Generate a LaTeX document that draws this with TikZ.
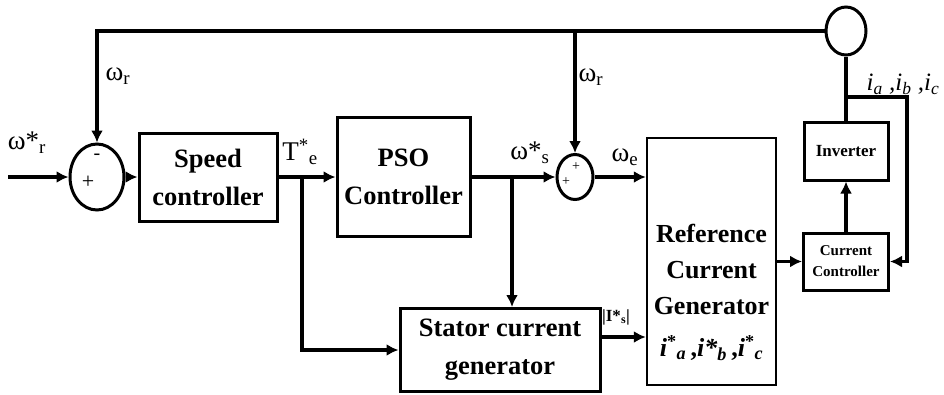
\documentclass[tikz,border=0pt]{standalone}
\usepackage{fontspec}
\setmainfont{Liberation Serif}
\usetikzlibrary{arrows.meta,positioning,calc,shapes.geometric}

\begin{document}
\begin{tikzpicture}[x=1pt,y=-1pt,
    block/.style={draw,line width=3pt,align=center,inner sep=0pt,font=\bfseries\fontsize{26.5}{38}\selectfont},
    sumnode/.style={ellipse,draw,line width=3pt,inner sep=0pt},
    wire/.style={line width=3.6pt},
    arrow/.style={-{Latex[length=12pt,width=12pt]}},
    lbl/.style={inner sep=0pt,font=\fontsize{27}{30}\selectfont}]
    \useasboundingbox (0,0) rectangle (944,394);
    \node[sumnode,minimum width=54pt,minimum height=66pt] (sum1) at (97,177) {};
    \node[block,minimum width=138pt,minimum height=88pt] (spd) at (208,177) {Speed\\controller};
    \node[block,minimum width=133pt,minimum height=119pt] (pso) at (403.5,177) {PSO\\Controller};
    \node[sumnode,minimum width=36pt,minimum height=45pt] (sum2) at (575,177) {};
    \node[block,minimum width=200pt,minimum height=83pt] (stator) at (500,350) {Stator current\\generator};
    \node[block,line width=2.4pt,minimum width=129pt,minimum height=247pt] (ref) at (711.5,261.5) {};
    \node[align=center,font=\bfseries\fontsize{26}{36}\selectfont] (reftext) at (711.5,292) {Reference\\Current\\Generator\\[6pt]
        \textit{i}\textsuperscript{*}\textsubscript{\textit{a}}\,,\textit{i*}\textsubscript{\textit{b}}\,,\textit{i}\textsuperscript{*}\textsubscript{\textit{c}}};
    \node[block,font=\bfseries\fontsize{17}{20}\selectfont,minimum width=84pt,minimum height=58pt] (inv) at (846,151) {Inverter};
    \node[block,font=\bfseries\fontsize{15}{21}\selectfont,minimum width=85pt,minimum height=57pt] (cc) at (846,261.5) {Current\\Controller};
    \node[sumnode,minimum width=40pt,minimum height=48pt] (motor) at (846,31) {};

    \coordinate (in) at (8,177);
    \coordinate (tapt) at (302,177);
    \coordinate (taps) at (512,177);
    \coordinate (tapi) at (846,97);
    \draw[wire,arrow] (in) -- (sum1);
    \draw[wire,arrow] (sum1) -- (spd);
    \draw[wire,arrow] (spd) -- (pso);
    \draw[wire,arrow] (pso) -- (sum2);
    \draw[wire,arrow] (sum2.east) -- (sum2.east -| ref.west);
    \draw[wire,arrow] (motor.west) -| (sum1.north);
    \draw[wire,arrow] (motor.west -| sum2.north) -- (sum2.north);
    \draw[wire,arrow] (tapt) |- (stator.west);
    \draw[wire,arrow] (taps) -- (taps |- stator.north);
    \draw[wire,arrow] (stator.east |- 0,337) -- (ref.west |- 0,337);
    \draw[wire,arrow] (ref.east) -- (cc.west);
    \draw[wire,arrow] (cc.north) -- (inv.south);
    \draw[wire] (inv.north) -- (motor.south);
    \draw[wire,arrow] (tapi) -- ++(61,0) |- (cc.east);

    \node[lbl] (wrefr) at (27,143) {ω*\textsubscript{r}};
    \node[lbl] (wr1) at (118,76) {ω\textsubscript{r}};
    \node[lbl] (te) at (300,152) {T\textsuperscript{*}\textsubscript{e}};
    \node[lbl] (wrefs) at (530,153) {ω*\textsubscript{s}};
    \node[lbl] (wr2) at (591,77) {ω\textsubscript{r}};
    \node[lbl] (we) at (625,157) {ω\textsubscript{e}};
    \node[lbl,font=\itshape\fontsize{25}{28}\selectfont] (iabc) at (903,84) {i\textsubscript{a} ,i\textsubscript{b} ,i\textsubscript{c}};
    \node[lbl,font=\bfseries\fontsize{17}{18}\selectfont] (istar) at (616,317) {|I*\textsubscript{s}|};
    \node[lbl,font=\fontsize{20}{22}\selectfont] (m1) at (97,157) {-};
    \node[lbl,font=\fontsize{22}{22}\selectfont] (p1) at (88,182) {+};
    \node[lbl,font=\fontsize{14}{16}\selectfont] (p2) at (576,167) {+};
    \node[lbl,font=\fontsize{14}{16}\selectfont] (p3) at (566,182) {+};
\end{tikzpicture}
\end{document}
